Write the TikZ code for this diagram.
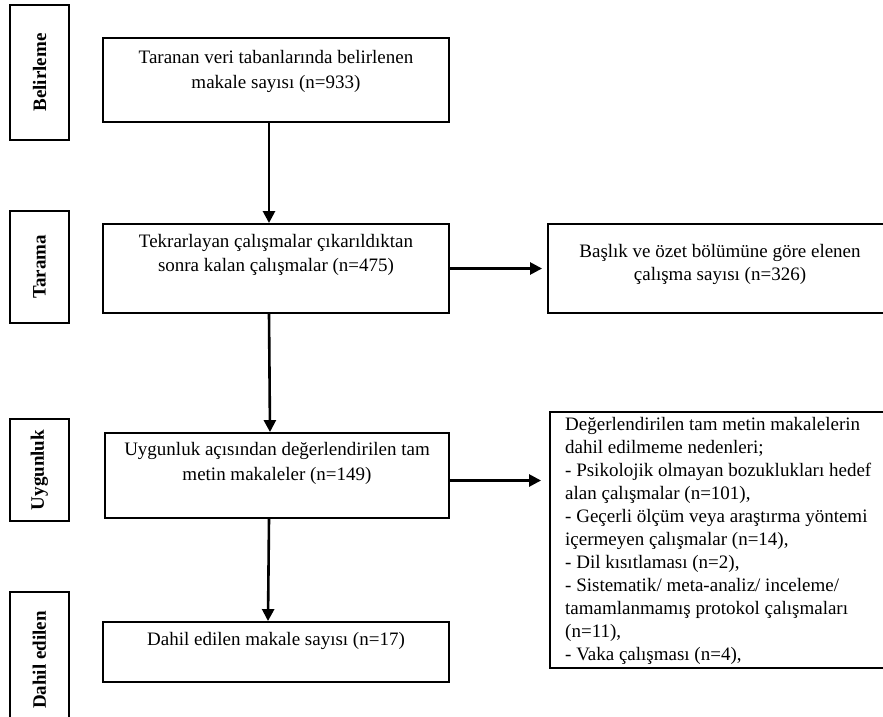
\documentclass[tikz,border=0pt]{standalone}
\usepackage{fontspec}
\setmainfont{Liberation Serif}
\usetikzlibrary{arrows.meta,calc}
\begin{document}
\begin{tikzpicture}[x=1pt,y=-1pt,
  box/.style={draw, line width=1.9pt, inner sep=0pt},
  lab/.style={draw, line width=1.9pt, inner sep=0pt, rotate=90,
    font=\bfseries\fontsize{19}{23}\selectfont},
  txt/.style={font=\fontsize{19}{25}\selectfont, align=center, inner sep=0pt, anchor=north},
  rtxt/.style={font=\fontsize{19}{23}\selectfont, inner sep=0pt, anchor=north},
  arr/.style={line width=2.6pt, -{Triangle[length=12pt,width=12pt]}}]
\useasboundingbox[fill=white] (0,0) rectangle (883,717);

% stage labels
\node[lab, minimum width=135, minimum height=59] (l1) at (39.5,72.5) {Belirleme};
\node[lab, minimum width=112, minimum height=59] (l2) at (39.5,267) {Tarama};
\node[lab, minimum width=102, minimum height=59] (l3) at (39.5,470) {Uygunluk};
\node[lab, minimum width=136, minimum height=59] (l4) at (39.5,660) {Dahil edilen};

% main boxes
\node[box, minimum width=346, minimum height=84] (b1) at (276,80) {};
\node[box, minimum width=346, minimum height=89] (b2) at (276,268.5) {};
\node[box, minimum width=344, minimum height=85] (b3) at (277,475.5) {};
\node[box, minimum width=346, minimum height=60] (b4) at (276,652) {};

% right boxes
\node[box, minimum width=342, minimum height=89] (r1) at (719,268.5) {};
\node[box, minimum width=340, minimum height=256] (r2) at (720,540) {};

% texts
\node[txt] (t1) at (276,50) {Taranan veri tabanlarında belirlenen\\makale sayısı (n=933)};
\node[txt, font=\fontsize{19}{24}\selectfont] (t2) at (276,234) {Tekrarlayan çalışmalar çıkarıldıktan\\sonra kalan çalışmalar (n=475)};
\node[txt] (t3) at (277,442) {Uygunluk açısından değerlendirilen tam\\metin makaleler (n=149)};
\node[txt] (t4) at (276,632) {Dahil edilen makale sayısı (n=17)};
\node[txt, font=\fontsize{19}{23}\selectfont] (t5) at (720,244) {Başlık ve özet bölümüne göre elenen\\çalışma sayısı (n=326)};
\node[rtxt, anchor=north west, align=left] (t6) at (565,417) {Değerlendirilen tam metin makalelerin\\dahil edilmeme nedenleri;\\- Psikolojik olmayan bozuklukları hedef\\alan çalışmalar (n=101),\\- Geçerli ölçüm veya araştırma yöntemi\\içermeyen çalışmalar (n=14),\\- Dil kısıtlaması (n=2),\\- Sistematik/ meta-analiz/ inceleme/\\tamamlanmamış protokol çalışmaları\\(n=11),\\- Vaka çalışması (n=4),};

% connectors
\draw[arr] ([xshift=-7pt]b1.south) -- ([xshift=-7pt]b2.north);
\draw[arr] ([xshift=-7pt]b2.south) -- ([xshift=-7pt]b3.north);
\draw[arr] ([xshift=-8pt]b3.south) -- ([xshift=-8pt]b4.north);
\draw[arr, shorten >=5pt] (b2.east) -- (b2.east -| r1.west);
\draw[arr, shorten >=8pt] ([yshift=-5pt]b3.east) -- ([yshift=-5pt]b3.east -| r2.west);
\end{tikzpicture}
\end{document}
